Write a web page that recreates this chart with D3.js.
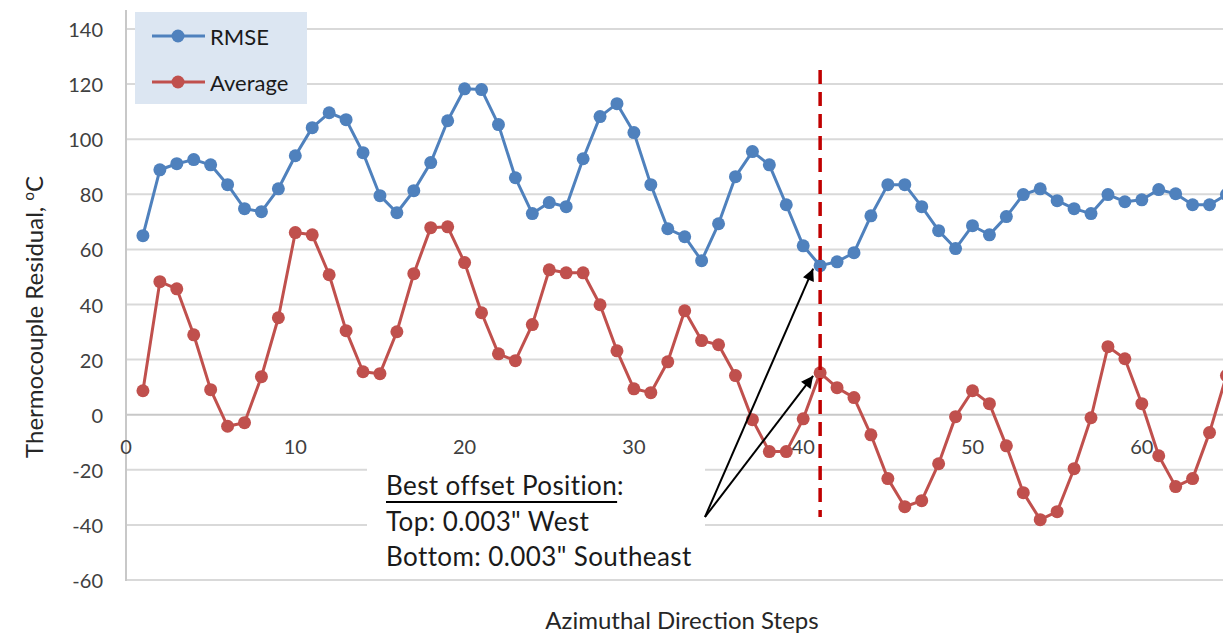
<!DOCTYPE html>
<html>
<head>
<meta charset="utf-8">
<script src="https://cdn.jsdelivr.net/npm/d3@7"></script>
<style>
  html, body { margin: 0; padding: 0; background: #ffffff; overflow: hidden; }
  svg { display: block; font-family: Lato, "Open Sans", sans-serif; }
</style>
</head>
<body>
<svg id="chart" width="1223" height="636"></svg>
<script>
// Azimuthal step index
const steps = d3.range(1, 66);

// Thermocouple residual series (°C)
const rmse = [
  65.0, 88.9, 91.1, 92.6, 90.7, 83.5, 74.8, 73.7, 82.0, 94.0,
  104.2, 109.6, 107.1, 95.1, 79.5, 73.3, 81.3, 91.5, 106.7, 118.3,
  118.0, 105.3, 86.0, 73.0, 77.0, 75.5, 92.9, 108.2, 112.9, 102.4,
  83.5, 67.5, 64.6, 55.9, 69.3, 86.4, 95.5, 90.7, 76.2, 61.3,
  54.1, 55.5, 58.8, 72.2, 83.5, 83.5, 75.5, 66.8, 60.3, 68.6,
  65.3, 71.9, 79.9, 82.0, 77.7, 74.8, 73.0, 79.9, 77.3, 78.0,
  81.7, 80.2, 76.2, 76.2, 79.9
];
const average = [
  8.7, 48.3, 45.7, 29.0, 9.1, -4.2, -2.9, 13.8, 35.2, 66.1,
  65.3, 50.8, 30.5, 15.6, 14.9, 30.1, 51.2, 67.9, 68.2, 55.2,
  37.0, 22.1, 19.6, 32.7, 52.6, 51.5, 51.5, 39.9, 23.2, 9.4,
  8.0, 19.2, 37.7, 26.9, 25.4, 14.2, -1.8, -13.4, -13.4, -1.5,
  15.2, 9.8, 6.2, -7.3, -23.2, -33.4, -31.2, -17.8, -0.7, 8.7,
  4.0, -11.3, -28.3, -38.1, -35.2, -19.6, -1.1, 24.7, 20.3, 4.0,
  -14.9, -26.1, -23.2, -6.5, 14.2
];

// Axis ticks
const yTicks = [-60, -40, -20, 0, 20, 40, 60, 80, 100, 120, 140];
const xTicks = [0, 10, 20, 30, 40, 50, 60];

// Highlighted step and annotation text
const bestStep = 41;
const noteTitle = "Best offset Position";
const noteLines = ["Top: 0.003\" West", "Bottom: 0.003\" Southeast"];

const seriesNames = ["RMSE", "Average"];
const seriesColors = ["#4f81bd", "#c0504d"];
const seriesData = [rmse, average];

const svg = d3.select("#chart");

const x = d3.scaleLinear().domain([0, 70]).range([126, 126 + 70 * 16.93]);
const y = d3.scaleLinear().domain([-60, 140]).range([580, 29]);

// Horizontal gridlines
svg.append("g")
  .selectAll("line")
  .data(yTicks)
  .join("line")
  .attr("x1", x(0)).attr("x2", x(70))
  .attr("y1", d => y(d)).attr("y2", d => y(d))
  .attr("stroke", d => d === 0 ? "#c8c8c8" : "#d9d9d9")
  .attr("stroke-width", 2);

// Vertical axis line
svg.append("line")
  .attr("x1", x(0)).attr("x2", x(0))
  .attr("y1", 10).attr("y2", y(-60) + 1)
  .attr("stroke", "#c8c8c8").attr("stroke-width", 2);

// Y tick labels
svg.append("g")
  .selectAll("text")
  .data(yTicks)
  .join("text")
  .attr("x", 103).attr("y", d => y(d))
  .attr("text-anchor", "end").attr("dominant-baseline", "central")
  .attr("font-size", 20).attr("fill", "#404040")
  .text(d => d);

// X tick labels, placed just below the zero line
svg.append("g")
  .selectAll("text")
  .data(xTicks)
  .join("text")
  .attr("x", d => x(d)).attr("y", y(0) + 31)
  .attr("text-anchor", "middle").attr("dominant-baseline", "central")
  .attr("font-size", 20).attr("fill", "#404040")
  .text(d => d);

// Axis titles
const yTitle = svg.append("text")
  .attr("transform", "translate(43, 317) rotate(-90)")
  .attr("text-anchor", "middle")
  .attr("font-size", 24).attr("fill", "#262626");
yTitle.append("tspan").text("Thermocouple Residual, ");
yTitle.append("tspan").attr("baseline-shift", "super").attr("font-size", 15).text("o");
yTitle.append("tspan").text("C");

svg.append("text")
  .attr("x", 682).attr("y", 629)
  .attr("text-anchor", "middle")
  .attr("font-size", 24).attr("fill", "#262626")
  .text("Azimuthal Direction Steps");

// Annotation box background (covers the lower gridlines behind the note)
svg.append("rect")
  .attr("x", 367).attr("y", 460).attr("width", 338).attr("height", 116)
  .attr("fill", "#ffffff");

// Series lines and markers
const line = d3.line().x((d, i) => x(steps[i])).y(d => y(d));
seriesData.forEach((vals, k) => {
  svg.append("path")
    .datum(vals)
    .attr("d", line)
    .attr("fill", "none")
    .attr("stroke", seriesColors[k])
    .attr("stroke-width", 3)
    .attr("stroke-linejoin", "round");
  svg.append("g")
    .selectAll("circle")
    .data(vals)
    .join("circle")
    .attr("cx", (d, i) => x(steps[i]))
    .attr("cy", d => y(d))
    .attr("r", 6.5)
    .attr("fill", seriesColors[k]);
});

// Dashed marker at the best step
svg.append("line")
  .attr("x1", x(bestStep)).attr("x2", x(bestStep))
  .attr("y1", 70).attr("y2", 517)
  .attr("stroke", "#c00000").attr("stroke-width", 3.5)
  .attr("stroke-dasharray", "14 8");

// Arrows from the note to the two points at the best step
svg.append("defs").append("marker")
  .attr("id", "arrowhead")
  .attr("viewBox", "0 0 10 10")
  .attr("refX", 10).attr("refY", 5)
  .attr("markerWidth", 7).attr("markerHeight", 6)
  .attr("markerUnits", "strokeWidth")
  .attr("orient", "auto")
  .append("path")
  .attr("d", "M0,0 L10,5 L0,10 Z")
  .attr("fill", "#000");

const arrowStart = [705, 517];
const bi = steps.indexOf(bestStep);
[rmse[bi], average[bi]].forEach(v => {
  const tx = x(bestStep) - 7, ty = y(v) + 3;
  svg.append("line")
    .attr("x1", arrowStart[0]).attr("y1", arrowStart[1])
    .attr("x2", tx).attr("y2", ty)
    .attr("stroke", "#000").attr("stroke-width", 2)
    .attr("marker-end", "url(#arrowhead)");
});

// Annotation text
const note = svg.append("g").attr("font-size", 26).attr("letter-spacing", 0.4).attr("fill", "#1a1a1a");
const t0 = note.append("text").attr("x", 386).attr("y", 495);
const titleSpan = t0.append("tspan").text(noteTitle);
t0.append("tspan").text(":");
const titleW = titleSpan.node().getComputedTextLength();
note.append("line")
  .attr("x1", 386).attr("x2", 386 + titleW)
  .attr("y1", 502).attr("y2", 502)
  .attr("stroke", "#000").attr("stroke-width", 2);
noteLines.forEach((s, i) => {
  note.append("text").attr("x", 386).attr("y", 531 + i * 35).text(s);
});

// Legend
const legend = svg.append("g");
legend.append("rect")
  .attr("x", 135).attr("y", 12).attr("width", 172).attr("height", 92)
  .attr("fill", "#dce6f2");
seriesNames.forEach((name, k) => {
  const ly = 36 + k * 46;
  legend.append("line")
    .attr("x1", 152).attr("x2", 205).attr("y1", ly).attr("y2", ly)
    .attr("stroke", seriesColors[k]).attr("stroke-width", 3);
  legend.append("circle")
    .attr("cx", 178).attr("cy", ly).attr("r", 6.5)
    .attr("fill", seriesColors[k]);
  legend.append("text")
    .attr("x", 210).attr("y", ly)
    .attr("dominant-baseline", "central")
    .attr("font-size", 22).attr("fill", "#1a1a1a")
    .text(name);
});
</script>
</body>
</html>
